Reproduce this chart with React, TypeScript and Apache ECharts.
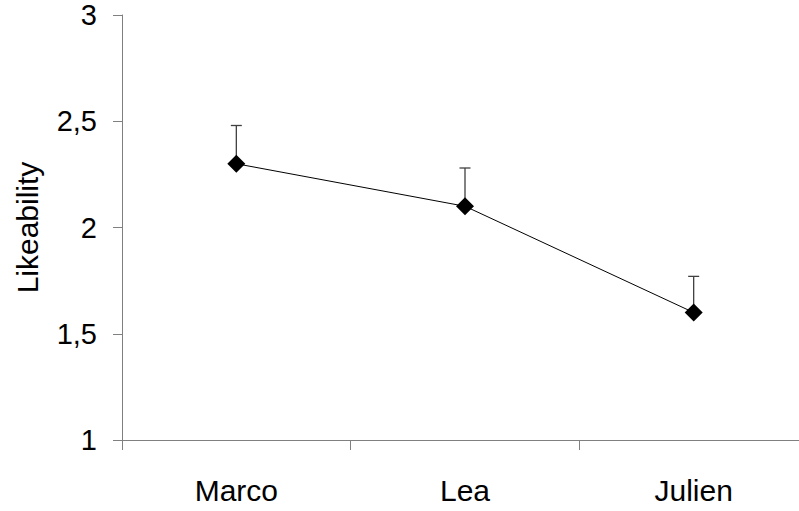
import React, { useEffect, useRef } from "react";
import * as echarts from "echarts";

const categories = ["Marco", "Lea", "Julien"];
const meanValues = [2.3, 2.1, 1.6];
const upperValues = [2.48, 2.28, 1.77];
const yTicks = { min: 1, max: 3, interval: 0.5 };

export default function App() {
  const ref = useRef<HTMLDivElement>(null);
  useEffect(() => {
    if (!ref.current) return;
    const chart = echarts.init(ref.current, null, { renderer: "svg" });
    const font = "Liberation Sans, Arial, sans-serif";
    const errData = categories.map((_, i) => [i, meanValues[i], upperValues[i]]);
    chart.setOption({
      animation: false,
      grid: {
        left: 122,
        top: 15,
        height: 425,
        width: 686,
        containLabel: false,
        outerBoundsMode: "none",
      },
      xAxis: {
        type: "category",
        data: categories,
        boundaryGap: true,
        axisLine: { lineStyle: { color: "#808080", width: 1 } },
        axisTick: { show: true, length: 10, lineStyle: { color: "#808080" }, alignWithLabel: false },
        axisLabel: { color: "#000", fontSize: 30, fontFamily: font, margin: 35 },
        splitLine: { show: false },
      },
      yAxis: {
        type: "value",
        min: yTicks.min,
        max: yTicks.max,
        interval: yTicks.interval,
        name: "Likeability",
        nameLocation: "middle",
        nameGap: 80,
        nameRotate: 90,
        nameTextStyle: { color: "#000", fontSize: 30, fontFamily: font },
        axisLine: { show: true, lineStyle: { color: "#808080", width: 1 } },
        axisTick: { show: true, length: 9, lineStyle: { color: "#808080" } },
        axisLabel: {
          color: "#000",
          fontSize: 29,
          fontFamily: font,
          margin: 25,
          formatter: (v: number) => String(v).replace(".", ","),
        },
        splitLine: { show: false },
      },
      series: [
        {
          type: "custom",
          data: errData,
          z: 1,
          clip: false,
          renderItem: (params: any, api: any) => {
            const x = api.value(0);
            const p0 = api.coord([x, api.value(1)]);
            const p1 = api.coord([x, api.value(2)]);
            const style = { stroke: "#404040", lineWidth: 1.3 };
            return {
              type: "group",
              children: [
                { type: "line", shape: { x1: p0[0], y1: p0[1], x2: p1[0], y2: p1[1] }, style },
                { type: "line", shape: { x1: p1[0] - 5.5, y1: p1[1], x2: p1[0] + 5.5, y2: p1[1] }, style },
              ],
            };
          },
        },
        {
          type: "line",
          data: meanValues,
          z: 3,
          symbol: "diamond",
          symbolSize: 18,
          lineStyle: { color: "#000", width: 1 },
          itemStyle: { color: "#000" },
        },
      ],
    });
    return () => chart.dispose();
  }, []);
  return <div ref={ref} style={{ width: 799, height: 511, position: "absolute", left: 0, top: 0 }} />;
}
